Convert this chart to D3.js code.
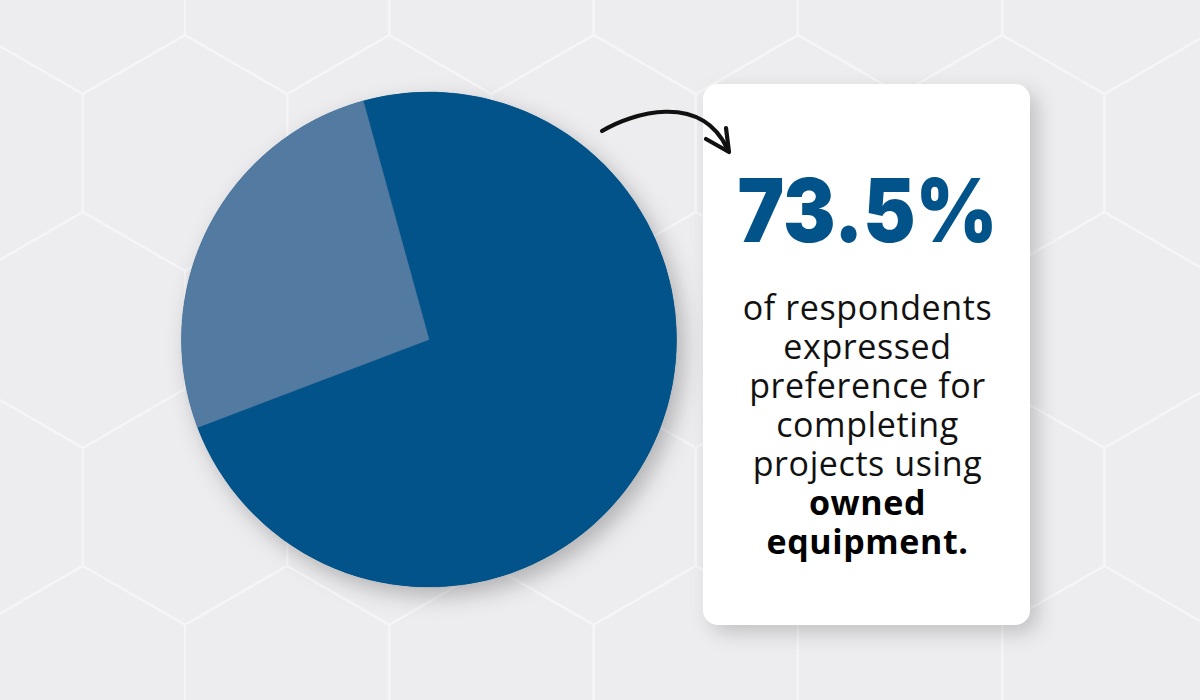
<!DOCTYPE html>
<html>
<head>
<meta charset="utf-8">
<script src="https://cdn.jsdelivr.net/npm/d3@7"></script>
<style>
  html, body { margin: 0; padding: 0; background: #ededef; }
  svg { display: block; }
</style>
</head>
<body>
<svg id="chart" width="1200" height="700"></svg>
<script>
// ---- data ----
const categories = ["Owned equipment", "Other"];
const values = [73.5, 26.5];
const colors = ["#025389", "#537ba1"];
const headline = "73.5%";
const bodyLines = ["of respondents", "expressed", "preference for", "completing", "projects using"];
const boldLines = ["owned", "equipment."];

const W = 1200, H = 700;
const svg = d3.select("#chart");

// ---- defs ----
const defs = svg.append("defs");
const f1 = defs.append("filter").attr("id", "pieShadow").attr("x", "-20%").attr("y", "-20%").attr("width", "150%").attr("height", "150%");
f1.append("feDropShadow").attr("dx", 7).attr("dy", 9).attr("stdDeviation", 11).attr("flood-color", "#000").attr("flood-opacity", 0.25);
const f2 = defs.append("filter").attr("id", "cardShadow").attr("x", "-20%").attr("y", "-20%").attr("width", "150%").attr("height", "150%");
f2.append("feDropShadow").attr("dx", 8).attr("dy", 8).attr("stdDeviation", 10).attr("flood-color", "#000").attr("flood-opacity", 0.18);

// ---- background ----
svg.append("rect").attr("width", W).attr("height", H).attr("fill", "#ededef");

// hexagon pattern (pointy-top)
const hexW = 204.3, hexS = hexW / Math.sqrt(3);
const rowStep = 1.5 * hexS;
const x0 = 185, y0 = 153;
const hexPts = d3.range(6).map(i => {
  const a = Math.PI / 180 * (60 * i - 90);
  return [hexS * Math.cos(a), hexS * Math.sin(a)];
});
const centers = [];
for (let r = -1; r <= 4; r++) {
  const cy = y0 + r * rowStep;
  const off = (((r % 2) + 2) % 2) ? -hexW / 2 : 0;
  for (let c = -1; c <= 7; c++) centers.push([x0 + off + c * hexW, cy]);
}
const hexLine = d3.line().curve(d3.curveLinearClosed);
svg.append("g").selectAll("path").data(centers).join("path")
  .attr("d", d => hexLine(hexPts.map(p => [p[0] + d[0], p[1] + d[1]])))
  .attr("fill", "none").attr("stroke", "#f5f5f7").attr("stroke-width", 2.2);

// ---- pie ----
const cx = 429, cy = 339.5, R = 247.5;
const startA = -15.4 * Math.PI / 180;
const pie = d3.pie().sort(null).startAngle(startA).endAngle(startA + 2 * Math.PI);
const arc = d3.arc().innerRadius(0).outerRadius(R);
const pieData = pie(values);
const gPie = svg.append("g").attr("transform", `translate(${cx},${cy})`);
gPie.append("circle").attr("r", R).attr("fill", colors[0]).attr("filter", "url(#pieShadow)");
gPie.selectAll("path").data(pieData).join("path")
  .attr("d", arc)
  .attr("fill", (d, i) => colors[i])
  .attr("stroke", (d, i) => colors[i]).attr("stroke-width", 0.5);

// ---- card ----
const card = { x: 703, y: 84, w: 327, h: 541, r: 15 };
svg.append("rect")
  .attr("x", card.x).attr("y", card.y).attr("width", card.w).attr("height", card.h)
  .attr("rx", card.r).attr("ry", card.r)
  .attr("fill", "#ffffff").attr("filter", "url(#cardShadow)");

// ---- arrow (drawn over the card) ----
svg.append("path")
  .attr("d", "M602,131 C632,113 700,92 727,148")
  .attr("fill", "none").attr("stroke", "#111").attr("stroke-width", 4.2)
  .attr("stroke-linecap", "round");
svg.append("path")
  .attr("d", "M706,139 L729,152 L726,128")
  .attr("fill", "none").attr("stroke", "#111").attr("stroke-width", 4.2)
  .attr("stroke-linecap", "round").attr("stroke-linejoin", "round");

const tx = 867.5;
svg.append("text")
  .attr("x", tx).attr("y", 242)
  .attr("text-anchor", "middle")
  .attr("font-family", "Inter, 'Open Sans', sans-serif")
  .attr("font-weight", 900)
  .attr("font-size", 88)
  .attr("fill", colors[0])
  .attr("textLength", 260).attr("lengthAdjust", "spacingAndGlyphs")
  .text(headline);

const allLines = bodyLines.map(t => ({ t, bold: false })).concat(boldLines.map(t => ({ t, bold: true })));
const y = d3.scaleLinear().domain([0, allLines.length - 1]).range([320, 554]);
svg.append("g").selectAll("text").data(allLines).join("text")
  .attr("x", tx).attr("y", (d, i) => y(i))
  .attr("text-anchor", "middle")
  .attr("font-family", "'Open Sans', sans-serif")
  .attr("font-size", 34)
  .attr("letter-spacing", "0.6")
  .attr("font-weight", d => d.bold ? 700 : 400)
  .attr("fill", d => d.bold ? "#000" : "#111")
  .text(d => d.t);
</script>
</body>
</html>
